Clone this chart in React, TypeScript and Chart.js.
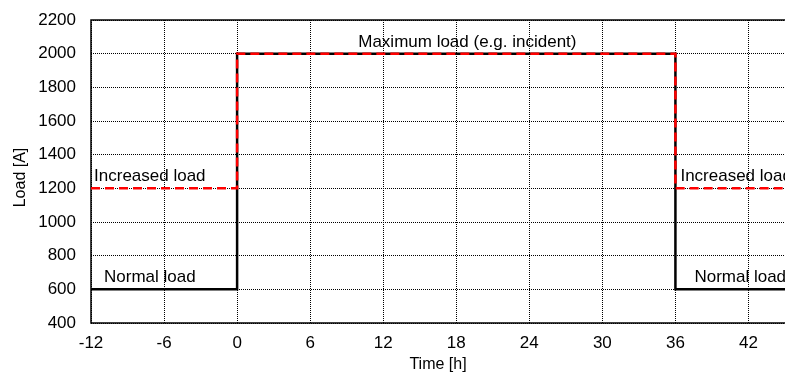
import React, { useEffect, useRef } from "react";
import { Chart, registerables } from "chart.js";

Chart.register(...registerables);

// Time axis (hours) and load values (A)
const normalTime = [-12, 0, 0, 36, 36, 45];
const normalLoad = [600, 600, 2000, 2000, 600, 600];
const increasedTime = [-12, 0, 0, 36, 36, 45];
const increasedLoad = [1200, 1200, 2000, 2000, 1200, 1200];
const xTickValues = [-12, -6, 0, 6, 12, 18, 24, 30, 36, 42];
const yTickValues = [400, 600, 800, 1000, 1200, 1400, 1600, 1800, 2000, 2200];
const yTitle = "Load [A]";
const xTitle = "Time [h]";

// Annotation labels anchored in data space
const labelTexts = ["Maximum load (e.g. incident)", "Increased load", "Normal load", "Increased load", "Normal load"];
const labelX = [9.95, -11.75, -10.93, 36.41, 37.56];
const labelY = [2000, 1200, 600, 1200, 600];

const FONT = "'Liberation Sans', Arial, sans-serif";

const annotationPlugin = {
  id: "annotations",
  beforeDatasetsDraw(chart: any) {
    const { ctx, chartArea } = chart;
    ctx.save();
    ctx.strokeStyle = "#000";
    ctx.lineWidth = 1.5;
    ctx.beginPath();
    ctx.moveTo(chartArea.right + 5, chartArea.top);
    ctx.lineTo(chartArea.left, chartArea.top);
    ctx.lineTo(chartArea.left, chartArea.bottom);
    ctx.lineTo(chartArea.right + 5, chartArea.bottom);
    ctx.stroke();
    ctx.restore();
  },
  afterDatasetsDraw(chart: any) {
    const { ctx, chartArea } = chart;
    const xs = chart.scales.x;
    const ys = chart.scales.y;
    ctx.save();
    ctx.fillStyle = "#000";
    ctx.font = `17px ${FONT}`;
    ctx.textAlign = "left";
    ctx.textBaseline = "alphabetic";
    for (let i = 0; i < labelTexts.length; i++) {
      const px = xs.getPixelForValue(labelX[i]);
      const py = ys.getPixelForValue(labelY[i]) - 7;
      ctx.fillText(labelTexts[i], px, py);
    }
    // y axis title
    ctx.font = `16px ${FONT}`;
    ctx.textAlign = "center";
    ctx.textBaseline = "middle";
    ctx.translate(20.5, (chartArea.top + chartArea.bottom) / 2 + 6);
    ctx.rotate(-Math.PI / 2);
    ctx.fillText(yTitle, 0, 0);
    ctx.restore();
  },
};

export default function App() {
  const ref = useRef<HTMLCanvasElement>(null);
  useEffect(() => {
    if (!ref.current) return;
    const chart = new Chart(ref.current, {
      type: "scatter",
      data: {
        datasets: [
          {
            label: "Increased",
            data: increasedTime.map((t, i) => ({ x: t, y: increasedLoad[i] })),
            showLine: true,
            borderColor: "#ff0000",
            borderWidth: 2.5,
            borderDash: [9, 5],
            pointRadius: 0,
            fill: false,
            order: 0,
          },
          {
            label: "Normal",
            data: normalTime.map((t, i) => ({ x: t, y: normalLoad[i] })),
            showLine: true,
            borderColor: "#000000",
            borderWidth: 2.5,
            pointRadius: 0,
            fill: false,
            order: 1,
          },
        ],
      },
      options: {
        responsive: false,
        animation: false,
        layout: { padding: { top: 20, right: 0, left: 0, bottom: 0 } },
        plugins: { legend: { display: false }, tooltip: { enabled: false } },
        scales: {
          x: {
            type: "linear",
            min: -12,
            max: 45,
            afterBuildTicks: (s: any) => {
              s.ticks = xTickValues.map((v) => ({ value: v }));
            },
            afterFit: (s: any) => {
              s.height = 50;
              s.paddingLeft = 0;
              s.paddingRight = 0;
            },
            grid: { color: "#000", lineWidth: 1, drawTicks: false },
            border: { display: false, dash: [1, 1] },
            ticks: {
              color: "#000",
              font: { family: FONT, size: 17 },
              padding: 10,
              maxRotation: 0,
              autoSkip: false,
              callback: (v: any) => String(v),
            },
            title: {
              display: true,
              text: xTitle,
              color: "#000",
              font: { family: FONT, size: 16 },
              padding: { top: 0, bottom: -1 },
            },
          },
          y: {
            type: "linear",
            min: 400,
            max: 2200,
            afterBuildTicks: (s: any) => {
              s.ticks = yTickValues.map((v) => ({ value: v }));
            },
            afterFit: (s: any) => {
              s.width = 91;
              s.paddingTop = 0;
              s.paddingBottom = 0;
            },
            grid: { color: "#000", lineWidth: 1, drawTicks: false },
            border: { display: false, dash: [1, 1] },
            ticks: {
              color: "#000",
              font: { family: FONT, size: 17 },
              padding: 15,
              callback: (v: any) => String(v),
            },
            title: { display: false },
          },
        },
      },
      plugins: [annotationPlugin],
    });
    return () => chart.destroy();
  }, []);
  return (
    <div style={{ position: "absolute", left: 0, top: 0, width: 785, height: 373, background: "#fff" }}>
      <canvas ref={ref} width={785} height={373} style={{ display: "block" }} />
    </div>
  );
}
